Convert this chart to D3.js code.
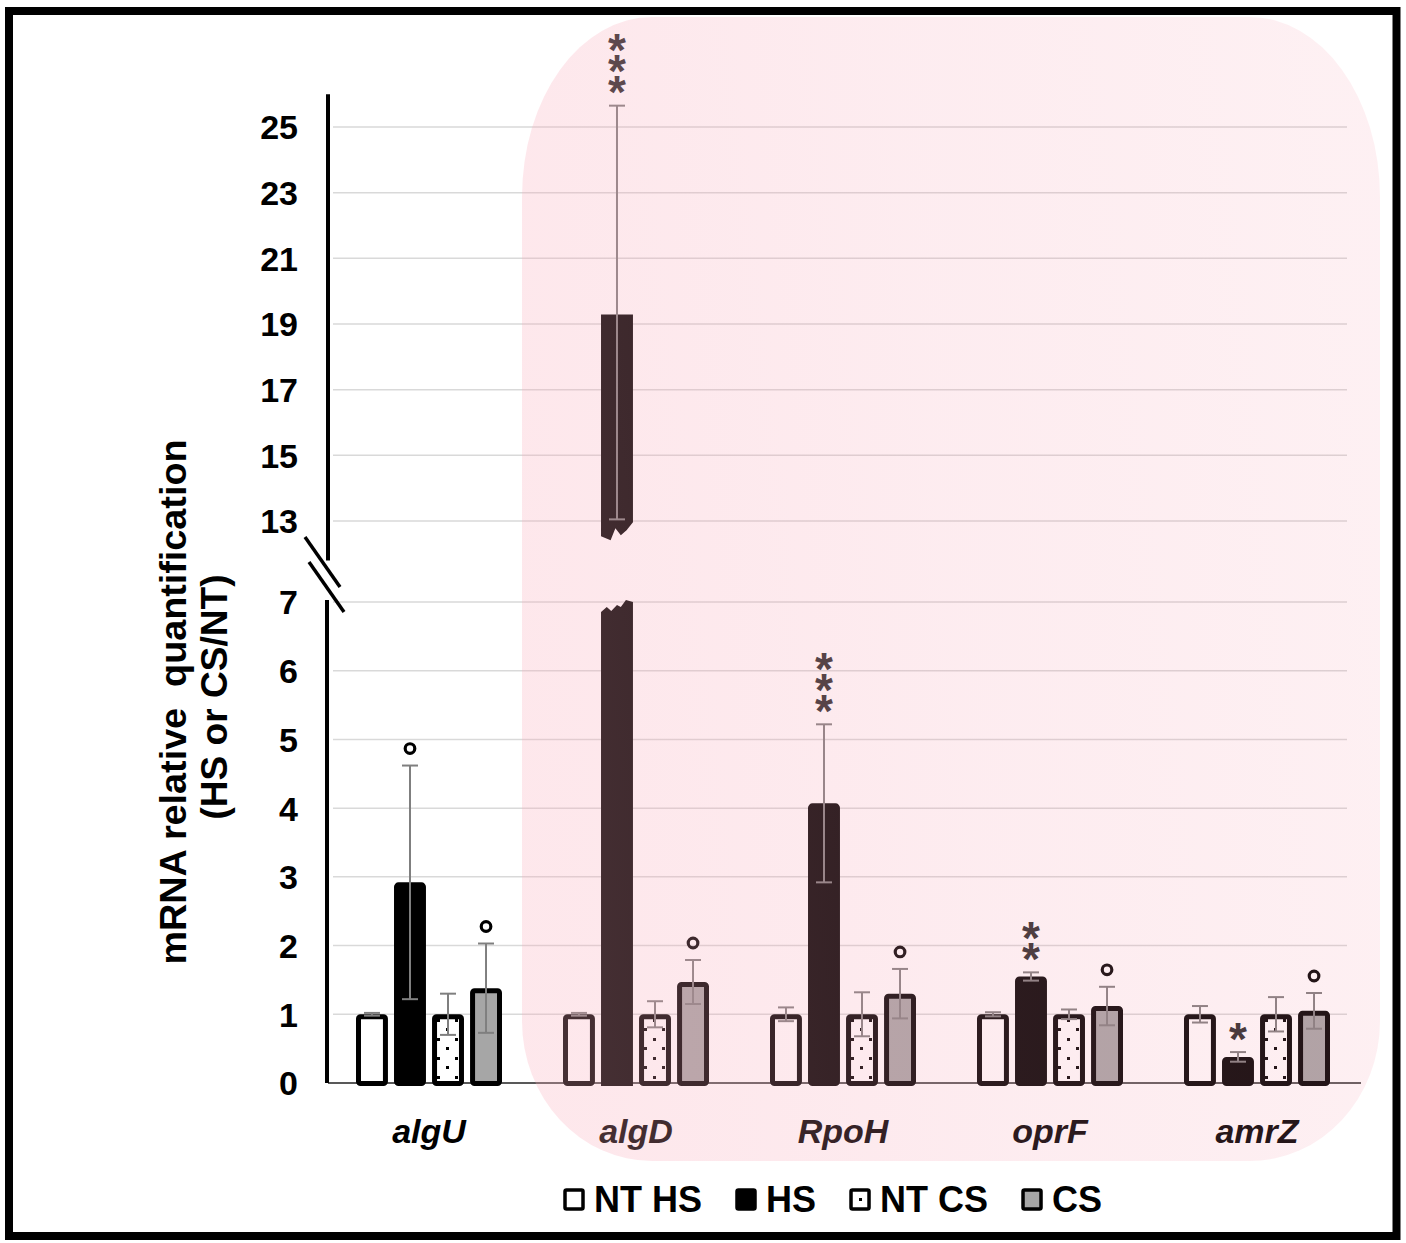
<!DOCTYPE html>
<html><head><meta charset="utf-8">
<script src="https://cdn.jsdelivr.net/npm/d3@7"></script>
<style>body{margin:0;background:#fff} svg{display:block} text{font-family:"Liberation Sans",Arial,sans-serif}</style>
</head><body><svg id="c" width="1406" height="1243"></svg>
<script>
const genes = ["algU","algD","RpoH","oprF","amrZ"];
const seriesNames = ["NT HS","HS","NT CS","CS"];
const ntHS = [1.00,1.00,1.00,1.00,1.00];
const ntHSErr = [0.02,0.02,0.10,0.03,0.12];
const hs = [2.92,19.35,4.07,1.55,0.38];
const hsErr = [1.70,6.30,1.15,0.06,0.07];
const ntCS = [1.00,1.00,1.00,1.00,1.00];
const ntCSErr = [0.30,0.19,0.32,0.07,0.25];
const cs = [1.38,1.47,1.30,1.12,1.05];
const csErr = [0.65,0.32,0.36,0.28,0.26];
const hsSig = ["°","***","***","**","*"];
const csSig = ["°","°","°","°","°"];
const lowTicks = [0,1,2,3,4,5,6,7];
const highTicks = [13,15,17,19,21,23,25];
const yTitle1 = "mRNA relative  quantification";
const yTitle2 = "(HS or CS/NT)";

const seriesVals = {"NT HS":ntHS,"HS":hs,"NT CS":ntCS,"CS":cs};
const seriesErr = {"NT HS":ntHSErr,"HS":hsErr,"NT CS":ntCSErr,"CS":csErr};
const seriesSig = {"HS":hsSig,"CS":csSig};
const fills = {"NT HS":"#ffffff","HS":"#000000","NT CS":"url(#dots)","CS":"#a6a6a6"};

const svg = d3.select("#c");
const defs = svg.append("defs");
const pat = defs.append("pattern").attr("id","dots").attr("patternUnits","userSpaceOnUse")
  .attr("width",18).attr("height",19).attr("x",2).attr("y",0);
pat.append("rect").attr("width",18).attr("height",19).attr("fill","#fff");
pat.append("rect").attr("x",3).attr("y",12).attr("width",3).attr("height",3).attr("fill","#000");
pat.append("rect").attr("x",12).attr("y",2).attr("width",3).attr("height",3).attr("fill","#000");

const grad = defs.append("linearGradient").attr("id","pinkg").attr("gradientUnits","userSpaceOnUse")
  .attr("x1",522).attr("y1",600).attr("x2",1380).attr("y2",500);
grad.append("stop").attr("offset",0).attr("stop-color","rgb(250,171,186)").attr("stop-opacity",0.28);
grad.append("stop").attr("offset",0.5).attr("stop-color","rgb(245,150,170)").attr("stop-opacity",0.18);
grad.append("stop").attr("offset",1).attr("stop-color","rgb(245,140,160)").attr("stop-opacity",0.13);

// frame
svg.append("rect").attr("x",9).attr("y",11).attr("width",1387.5).attr("height",1225)
  .attr("fill","none").attr("stroke","#000").attr("stroke-width",8);

const yLow = d3.scaleLinear().domain([0,7]).range([1083,602]);
const yHigh = d3.scaleLinear().domain([13,25]).range([521,127]);
const y = v => v > 10 ? yHigh(v) : yLow(v);
const base = yLow(0);
const x0 = d3.scaleBand().domain(genes).range([325.5,1360.5]);
const x1 = d3.scaleBand().domain(seriesNames).range([-73,73]).paddingInner(0.16);
const bw = x1.bandwidth();
const axisX = 328;

// gridlines
const grid = svg.append("g");
lowTicks.filter(t=>t>0).forEach(t=>grid.append("line").attr("x1",333).attr("x2",1347)
  .attr("y1",yLow(t)).attr("y2",yLow(t)).attr("stroke","#d9d9d9").attr("stroke-width",1.5));
highTicks.forEach(t=>grid.append("line").attr("x1",333).attr("x2",1347)
  .attr("y1",yHigh(t)).attr("y2",yHigh(t)).attr("stroke","#d9d9d9").attr("stroke-width",1.5));

// baseline
svg.append("line").attr("x1",axisX).attr("x2",1361).attr("y1",base).attr("y2",base)
  .attr("stroke","#595959").attr("stroke-width",2);

// axes labels
const axLow = svg.append("g").attr("transform",`translate(${axisX},0)`)
  .call(d3.axisLeft(yLow).tickValues(lowTicks).tickFormat(d3.format("d")).tickSize(0).tickPadding(30));
const axHigh = svg.append("g").attr("transform",`translate(${axisX},0)`)
  .call(d3.axisLeft(yHigh).tickValues(highTicks).tickFormat(d3.format("d")).tickSize(0).tickPadding(30));
[axLow,axHigh].forEach(a=>{
  a.select(".domain").remove();
  a.selectAll("text").attr("font-family","'Liberation Sans',Arial,sans-serif")
   .attr("font-size",34).attr("font-weight","bold").attr("fill","#000").attr("dy","0.35em");
});
// axis lines with break
svg.append("line").attr("x1",axisX).attr("x2",axisX).attr("y1",yHigh(26)).attr("y2",yHigh(11.8))
  .attr("stroke","#000").attr("stroke-width",4);
svg.append("line").attr("x1",axisX-1).attr("x2",axisX-1).attr("y1",yLow(7.03)).attr("y2",base)
  .attr("stroke","#000").attr("stroke-width",4);
const b1 = yHigh(13), b2 = yLow(7);
svg.append("line").attr("x1",axisX-23).attr("y1",b1+16).attr("x2",axisX+12).attr("y2",b1+66)
  .attr("stroke","#000").attr("stroke-width",3.5);
svg.append("line").attr("x1",axisX-19).attr("y1",b2-40).attr("x2",axisX+16).attr("y2",b2+10)
  .attr("stroke","#000").attr("stroke-width",3.5);

// bars
const barsG = svg.append("g");
const errG = svg.append("g");
const sigG = svg.append("g");
const STAR_PITCH = 21, STAR_FS = 46;
genes.forEach((g,i)=>{
  seriesNames.forEach(s=>{
    const v = seriesVals[s][i], e = seriesErr[s][i];
    const xc = x0(g) + x0.bandwidth()/2 + x1(s) + bw/2;
    if (v > 7) {
      const L = xc - bw/2, R = xc + bw/2, w = R - L;
      const yt = yHigh(v), yb = yHigh(12.6);
      const upper = [[L,yt+2],[R,yt+2],[R,yb-12],[L+0.8*w,yb-4],[L+0.62*w,yb+1],[L+0.45*w,yb-6],[L+0.3*w,yb+6],[L,yb+2]];
      barsG.append("path").attr("d",d3.line()(upper)+"Z").attr("fill",fills[s]);
      const ylt = yLow(7);
      const lower = [[L,base+3],[L,ylt+10],[L+0.18*w,ylt+5],[L+0.32*w,ylt+9],[L+0.5*w,ylt+3],[L+0.62*w,ylt+5],[L+0.78*w,ylt-2],[R,ylt],[R,base+3]];
      barsG.append("path").attr("d",d3.line()(lower)+"Z").attr("fill",fills[s]);
    } else {
      barsG.append("rect").attr("x",xc-bw/2+2.5).attr("width",bw-5)
        .attr("y",y(v)+2.5).attr("height",base+0.5-(y(v)+2.5))
        .attr("rx",2).attr("fill",fills[s]).attr("stroke","#000").attr("stroke-width",5);
    }
    const yTop = y(v+e), yBot = y(v-e);
    errG.append("line").attr("x1",xc).attr("x2",xc).attr("y1",yTop).attr("y2",yBot)
      .attr("stroke","#7f7f7f").attr("stroke-width",2);
    [yTop,yBot].forEach(yy=>errG.append("line").attr("x1",xc-8).attr("x2",xc+8)
      .attr("y1",yy).attr("y2",yy).attr("stroke","#7f7f7f").attr("stroke-width",2));
    const sig = seriesSig[s] ? seriesSig[s][i] : null;
    if (sig === "°") {
      sigG.append("circle").attr("cx",xc).attr("cy",yTop-17).attr("r",4.8)
        .attr("fill","none").attr("stroke","#000").attr("stroke-width",3.2);
    } else if (sig) {
      const n = sig.length;
      const bottomC = yTop - 24;
      const topC = bottomC - (n-1)*STAR_PITCH;
      const t = sigG.append("text").attr("x",xc).attr("y",0).attr("font-size",STAR_FS)
        .attr("font-weight","bold").attr("fill","#2b2b2b")
        .style("writing-mode","vertical-rl").style("text-orientation","upright").text(sig);
      const node = t.node();
      let pitch = n>1 ? node.getExtentOfChar(1).y - node.getExtentOfChar(0).y : STAR_PITCH;
      t.style("letter-spacing",(STAR_PITCH - pitch) + "px");
      const e0 = node.getExtentOfChar(0);
      const inkC = e0.y + 0.33*STAR_FS;
      t.attr("y", topC - inkC);
      const e1 = node.getExtentOfChar(0);
      t.attr("x", xc + (xc - (e1.x + e1.width/2)));
    }
  });
  svg.append("text").attr("x",x0(g)+x0.bandwidth()/2).attr("y",1143).attr("text-anchor","middle")
    .attr("font-size",34).attr("font-weight","bold").attr("font-style","italic").attr("fill","#000").text(g);
});

// pink overlay
function rr(xa,ya,xb,yb,rxT,ryT,rxB,ryB){
  return `M${xa+rxT},${ya}H${xb-rxT}A${rxT},${ryT} 0 0 1 ${xb},${ya+ryT}V${yb-ryB}A${rxB},${ryB} 0 0 1 ${xb-rxB},${yb}H${xa+rxB}A${rxB},${ryB} 0 0 1 ${xa},${yb-ryB}V${ya+ryT}A${rxT},${ryT} 0 0 1 ${xa+rxT},${ya}Z`;
}
svg.append("path").attr("d",rr(522,17,1380,1161,130,180,130,140)).attr("fill","url(#pinkg)");

// y title
const tg = svg.append("g");
tg.append("text").attr("transform","translate(186,702) rotate(-90)").attr("text-anchor","middle")
  .attr("font-size",36).attr("font-weight","bold").attr("textLength",525).attr("lengthAdjust","spacingAndGlyphs")
  .attr("xml:space","preserve").style("white-space","pre").text(yTitle1);
tg.append("text").attr("transform","translate(227,697) rotate(-90)").attr("text-anchor","middle")
  .attr("font-size",36).attr("font-weight","bold").attr("textLength",245).attr("lengthAdjust","spacingAndGlyphs")
  .text(yTitle2);

// legend
const lg = svg.append("g");
let lx = 563;
const legendFill = {"NT HS":"#fff","HS":"#000","NT CS":"#fff","CS":"#a6a6a6"};
seriesNames.forEach(s=>{
  lg.append("rect").attr("x",lx+2).attr("y",1190).attr("width",18).attr("height",19).attr("rx",1.5)
    .attr("fill",legendFill[s]).attr("stroke","#000").attr("stroke-width",3.5);
  if (s==="NT CS") lg.append("rect").attr("x",lx+10).attr("y",1198).attr("width",3).attr("height",3).attr("fill","#000");
  const t = lg.append("text").attr("x",lx+31).attr("y",1212).attr("font-size",36).attr("font-weight","bold").attr("fill","#000").text(s);
  lx = lx + 31 + t.node().getComputedTextLength() + 33;
});
</script></body></html>
